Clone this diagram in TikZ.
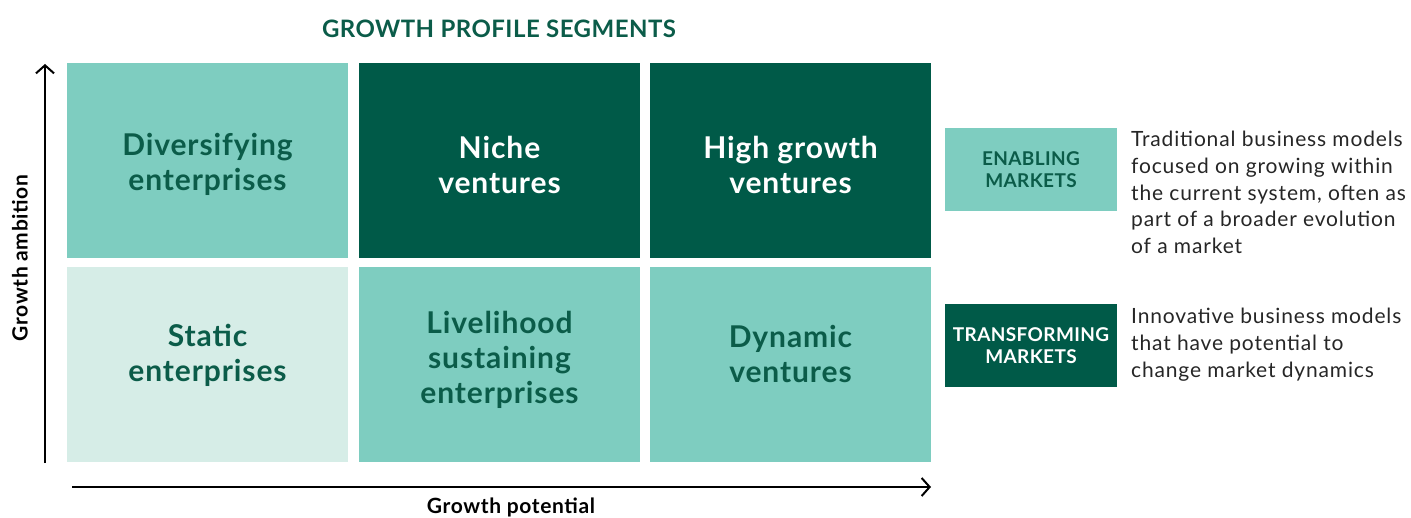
\documentclass[tikz,border=0pt]{standalone}
\usepackage{fontspec}
\setmainfont{Lato}
\usetikzlibrary{arrows.meta}
\definecolor{teal}{HTML}{7ECDC0}
\definecolor{dkgreen}{HTML}{005A48}
\definecolor{pale}{HTML}{D6EDE7}
\definecolor{txtgreen}{HTML}{0B5C49}
\tikzset{
  cell/.style={rectangle, minimum width=281pt, minimum height=195pt, inner sep=0pt},
  tealcell/.style={cell, fill=teal},
  darkcell/.style={cell, fill=dkgreen},
  palecell/.style={cell, fill=pale},
  celltext/.style={inner sep=0pt, align=center,
     font=\fontsize{30}{35}\selectfont\bfseries\addfontfeature{LetterSpace=3}},
  lighttext/.style={celltext, text=txtgreen},
  whitetext/.style={celltext, text=white},
  legbox/.style={rectangle, minimum width=172pt, minimum height=83pt, inner sep=0pt, align=center,
     font=\fontsize{19}{22}\selectfont\bfseries\addfontfeature{LetterSpace=2}},
  legtext/.style={anchor=north west, inner sep=0pt, align=left, text=black!85,
     font=\fontsize{21}{26.7}\selectfont\addfontfeature{LetterSpace=4}},
  axis/.style={line width=2pt, -{Straight Barb[length=8pt,width=18pt,line width=2pt]}},
  axlabel/.style={font=\fontsize{21}{24}\selectfont\bfseries\addfontfeature{LetterSpace=3}, text=black}
}
\begin{document}
\begin{tikzpicture}[x=1pt,y=-1pt]
\useasboundingbox (0,0) rectangle (1411,518);
\node[font=\fontsize{24}{28}\selectfont\bfseries\addfontfeature{LetterSpace=2}, text=txtgreen] (title) at (499,29) {GROWTH PROFILE SEGMENTS};
% grid
\node[tealcell] (div) at (207.5,160.5) {};
\node[darkcell] (niche) at (499.5,160.5) {};
\node[darkcell] (high) at (790.5,160.5) {};
\node[palecell] (static) at (207.5,364.5) {};
\node[tealcell] (live) at (499.5,364.5) {};
\node[tealcell] (dyn) at (790.5,364.5) {};
\node[lighttext, yshift=-4pt] (divt) at (div.center) {Diversifying\\enterprises};
\node[whitetext, yshift=-4pt] (nicht) at (niche.center) {Niche\\ventures};
\node[whitetext, yshift=-4pt] (hight) at (high.center) {High growth\\ventures};
\node[lighttext, yshift=9pt] (statt) at (static.center) {Static\\enterprises};
\node[lighttext, yshift=5pt] (livet) at (live.center) {Livelihood\\sustaining\\enterprises};
\node[lighttext, yshift=11pt] (dynt) at (dyn.center) {Dynamic\\ventures};
% axes
\coordinate (ystart) at (45,463);
\coordinate (yend) at (45,64);
\coordinate (xstart) at (72,487);
\coordinate (xend) at (931,487);
\draw[axis] (ystart) -- (yend);
\draw[axis] (xstart) -- (xend);
\node[axlabel] (xlab) at (511,507) {Growth potential};
\node[axlabel, rotate=90] (ylab) at (20,258) {Growth ambition};
% legend
\node[legbox, fill=teal, text=txtgreen] (enab) at (1031,169.5) {ENABLING\\MARKETS};
\node[legbox, fill=dkgreen, text=white] (trans) at (1031,345.5) {TRANSFORMING\\MARKETS};
\node[legtext] (enabtxt) at (1131,131) {Traditional business models\\focused on growing within\\the current system, often as\\part of a broader evolution\\of a market};
\node[legtext] (transtxt) at (1131,308) {Innovative business models\\that have potential to\\change market dynamics};
\end{tikzpicture}
\end{document}
